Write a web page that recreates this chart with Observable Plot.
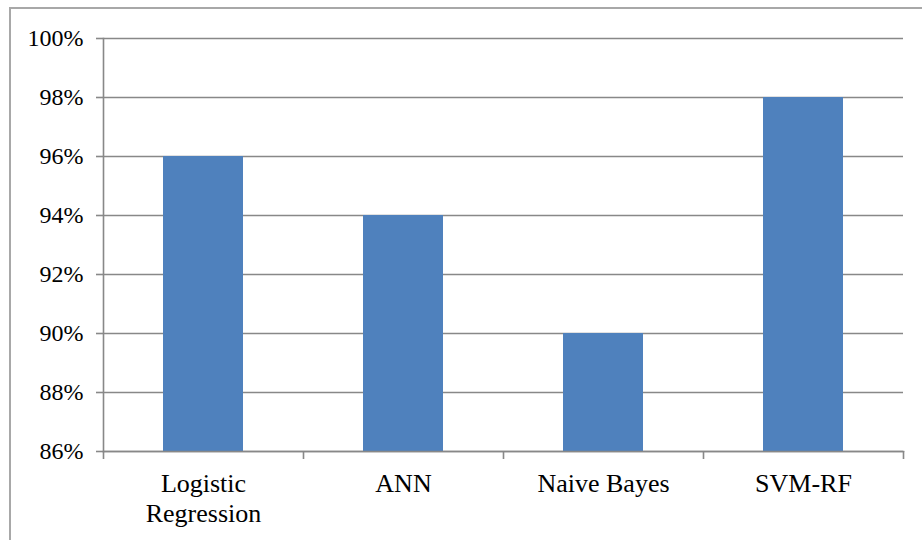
<!DOCTYPE html>
<html>
<head>
<meta charset="utf-8">
<script src="https://cdn.jsdelivr.net/npm/d3@7"></script>
<script src="https://cdn.jsdelivr.net/npm/@observablehq/plot@0.6"></script>
<style>
  html, body { margin: 0; padding: 0; background: #fff; }
  #wrap { position: relative; width: 922px; height: 540px; overflow: hidden; }
  #border { position: absolute; left: 9px; top: 7px; width: 940px; height: 560px; border: 2px solid #a8a8a8; pointer-events: none; }
  #chart svg, #chart svg text { font-family: "Liberation Serif", "Times New Roman", serif !important; }
</style>
</head>
<body>
<div id="wrap"><div id="chart"></div><div id="border"></div></div>
<script>
const categories = ["Logistic\nRegression", "ANN", "Naive Bayes", "SVM-RF"];
const accuracy = [96, 94, 90, 98];
const yDomain = [86, 100];
const yTicks = [86, 88, 90, 92, 94, 96, 98, 100];

const data = categories.map((c, i) => ({category: c, value: accuracy[i]}));
const gridColor = "#888888";

const plot = Plot.plot({
  width: 922,
  height: 540,
  marginLeft: 103,
  marginRight: 19,
  marginTop: 38,
  marginBottom: 89,
  style: {fontFamily: "Liberation Serif", fontSize: "25px", color: "#000", background: "transparent"},
  x: {type: "band", domain: categories, paddingInner: 0, paddingOuter: 0},
  y: {domain: yDomain},
  marks: [
    Plot.ruleY(yTicks, {stroke: gridColor, strokeWidth: 1.6}),
    Plot.barY(data, {x: "category", y1: () => yDomain[0], y2: "value", fill: "#4F81BD", insetLeft: 60, insetRight: 60}),
    Plot.frame({anchor: "left", stroke: gridColor, strokeWidth: 1.6}),
    Plot.frame({anchor: "bottom", stroke: gridColor, strokeWidth: 1.6}),
    Plot.axisY({ticks: yTicks, tickFormat: d => d + "%", tickSize: 7, tickPadding: 13, stroke: gridColor, strokeWidth: 1.6, fontSize: 24, fill: "#000", label: null}),
    Plot.ruleX(categories, {x: d => d, dx: -100, y1: () => yDomain[0], y2: () => yDomain[0], insetBottom: -8, stroke: gridColor, strokeWidth: 1.6}),
    Plot.ruleX(categories.slice(-1), {x: d => d, dx: 100, y1: () => yDomain[0], y2: () => yDomain[0], insetBottom: -8, stroke: gridColor, strokeWidth: 1.6}),
    Plot.axisX({tickSize: 0, tickPadding: 19, fontSize: 26, fill: "#000", label: null, lineHeight: 1.15})
  ]
});
document.getElementById("chart").appendChild(plot);
</script>
</body>
</html>
